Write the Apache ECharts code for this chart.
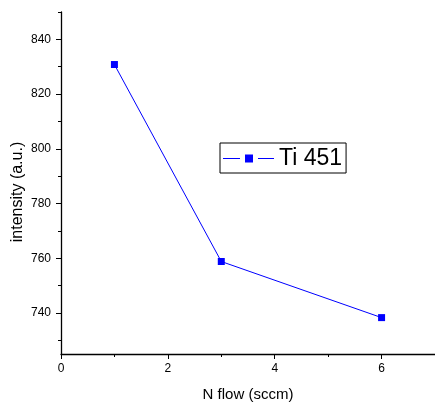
<!DOCTYPE html>
<html>
<head>
<meta charset="utf-8">
<script src="https://cdn.jsdelivr.net/npm/echarts@6/dist/echarts.min.js"></script>
<style>
  html, body { margin: 0; padding: 0; background: #fff; }
  #chart { width: 435px; height: 403px; }
</style>
</head>
<body>
<div id="chart"></div>
<script>
// N flow (sccm) vs. Ti 451 emission intensity
const flow = [1, 3, 6];
const intensity = [830.8, 758.8, 738.3];
const seriesName = 'Ti 451';

const yMajor = [740, 760, 780, 800, 820, 840];
const yMinor = [730, 750, 770, 790, 810, 830, 850];
const xMajor = [0, 2, 4, 6];
const xMinor = [1, 3, 5, 7];

const font = 'Liberation Sans, Arial, sans-serif';
const axisLine = { show: true, lineStyle: { color: '#000', width: 1.3 } };

// legend key: line segment, gap, square marker, gap, line segment
const legendIcon = 'path://M0,3.5H17V4.5H0Z M22,0H30V8H22Z M35,3.5H51V4.5H35Z';

const chart = echarts.init(document.getElementById('chart'), null, { renderer: 'canvas' });
chart.setOption({
  animation: false,
  backgroundColor: '#fff',
  grid: { left: 61, right: 0, top: 12, bottom: 49, containLabel: false, outerBoundsMode: 'none' },
  legend: {
    data: [{ name: seriesName, icon: legendIcon }],
    left: 220,
    top: 143,
    padding: [4, 4, 3, 3],
    borderColor: '#000',
    borderWidth: 1,
    itemWidth: 51,
    itemHeight: 8,
    textStyle: { fontSize: 23, fontFamily: font, color: '#000' }
  },
  xAxis: [{
    type: 'value',
    min: 0, max: 7,
    name: 'N flow (sccm)',
    nameLocation: 'middle',
    nameGap: 33,
    nameMoveOverlap: false,
    nameTextStyle: { fontSize: 15, fontFamily: font, color: '#000' },
    axisLine: axisLine,
    splitLine: { show: false },
    axisTick: { show: true, length: 5, customValues: xMajor, lineStyle: { color: '#000' } },
    axisLabel: { customValues: xMajor, fontSize: 12, fontFamily: font, color: '#000', margin: 9 }
  }, {
    type: 'value',
    min: 0, max: 7,
    position: 'bottom',
    axisLine: { show: false },
    splitLine: { show: false },
    axisTick: { show: true, length: 3, customValues: xMinor, lineStyle: { color: '#000' } },
    axisLabel: { show: false }
  }],
  yAxis: [{
    type: 'value',
    min: 725, max: 850,
    name: 'intensity (a.u.)',
    nameLocation: 'middle',
    nameGap: 35,
    nameMoveOverlap: false,
    nameTextStyle: { fontSize: 16, fontFamily: font, color: '#000', padding: [0, 18, 0, 0] },
    axisLine: axisLine,
    splitLine: { show: false },
    axisTick: { show: true, length: 5, customValues: yMajor, lineStyle: { color: '#000' } },
    axisLabel: { customValues: yMajor, fontSize: 12, fontFamily: font, color: '#000', margin: 10 }
  }, {
    type: 'value',
    min: 725, max: 850,
    position: 'left',
    axisLine: { show: false },
    splitLine: { show: false },
    axisTick: { show: true, length: 3, customValues: yMinor, lineStyle: { color: '#000' } },
    axisLabel: { show: false }
  }],
  series: [{
    name: seriesName,
    type: 'line',
    xAxisIndex: 0,
    yAxisIndex: 0,
    data: flow.map((x, i) => [x, intensity[i]]),
    symbol: 'rect',
    symbolSize: 7,
    lineStyle: { color: '#0000ff', width: 1 },
    itemStyle: { color: '#0000ff' }
  }]
});
</script>
</body>
</html>
